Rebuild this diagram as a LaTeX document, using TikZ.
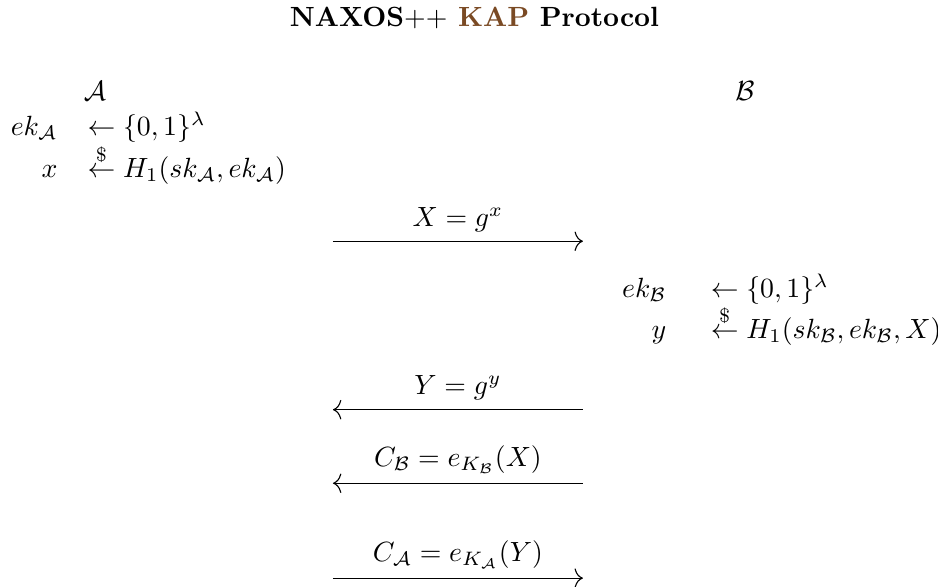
\documentclass[tikz,border=0pt]{standalone}
\usepackage{amsmath,amssymb,amsfonts}
\usepackage{xcolor}
\usepackage{tikz}
\usetikzlibrary{arrows.meta, positioning, calc}

\definecolor{kapbrown}{RGB}{122,74,36}

\begin{document}
\begin{tikzpicture}[
    lhs/.style={anchor=base east, inner sep=0pt},
    rhs/.style={anchor=base west, inner sep=0pt},
    party/.style={anchor=base, inner sep=0pt},
    msg/.style={-{To[length=3pt, width=7pt]}},
    lbl/.style={above, inner sep=3.3pt},
]
\useasboundingbox (0,0) rectangle (11.86,7.41);

% ---- Title ----
\node[anchor=base] (title) at (6.0,7.07) {\textbf{NAXOS$++$ \textcolor{kapbrown}{KAP} Protocol}};

% ---- Parties ----
\node[party] (pa) at (1.20,6.14) {$\mathcal{A}$};
\node[party] (pb) at (9.42,6.14) {$\mathcal{B}$};

% ---- A side ----
\node[lhs] (ekA) at (0.733,5.70) {$ek_{\mathcal{A}}$};
\node[rhs] (ekAr) at (1.10,5.70) {$\leftarrow \{0,1\}^{\lambda}$};
\node[lhs] (xA) at (0.733,5.17) {$x$};
\node[rhs] (xAr) at (1.10,5.17) {$\stackrel{\$}{\leftarrow} H_1(sk_{\mathcal{A}}, ek_{\mathcal{A}})$};

% ---- B side ----
\node[lhs] (ekB) at (8.43,3.65) {$ek_{\mathcal{B}}$};
\node[rhs] (ekBr) at (8.98,3.65) {$\leftarrow \{0,1\}^{\lambda}$};
\node[lhs] (yB) at (8.43,3.13) {$y$};
\node[rhs] (yBr) at (8.98,3.13) {$\stackrel{\$}{\leftarrow} H_1(sk_{\mathcal{B}}, ek_{\mathcal{B}}, X)$};

% ---- Message ends ----
\coordinate (m1l) at (4.21,4.36);  \coordinate (m1r) at (7.37,4.36);
\coordinate (m2l) at (4.21,2.23);  \coordinate (m2r) at (7.37,2.23);
\coordinate (m3l) at (4.21,1.30);  \coordinate (m3r) at (7.37,1.30);
\coordinate (m4l) at (4.21,0.10);  \coordinate (m4r) at (7.37,0.10);

% ---- Messages ----
\draw[msg] (m1l) -- node[lbl] {$X = g^x$} (m1r);
\draw[msg] (m2r) -- node[lbl] {$Y = g^y$} (m2l);
\draw[msg] (m3r) -- node[lbl] {$C_{\mathcal{B}} = e_{K_{\mathcal{B}}}(X)$} (m3l);
\draw[msg] (m4l) -- node[lbl] {$C_{\mathcal{A}} = e_{K_{\mathcal{A}}}(Y)$} (m4r);

\end{tikzpicture}
\end{document}
